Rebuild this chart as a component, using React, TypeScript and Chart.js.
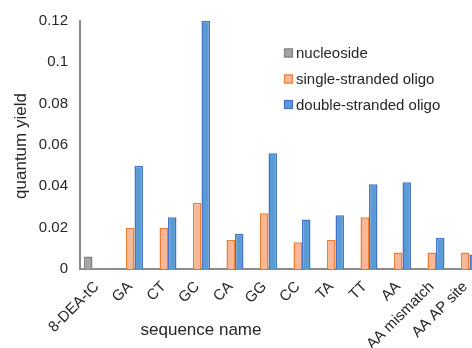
import React, { useEffect, useRef } from "react";
import { Chart, registerables } from "chart.js";

Chart.register(...registerables);

const categories = ["8-DEA-tC", "GA", "CT", "GC", "CA", "GG", "CC", "TA", "TT", "AA", "AA mismatch", "AA AP site"];
const nucleoside = [0.006, null, null, null, null, null, null, null, null, null, null, null];
const singleStranded = [null, 0.02, 0.02, 0.032, 0.014, 0.027, 0.013, 0.014, 0.025, 0.008, 0.008, 0.008];
const doubleStranded = [null, 0.05, 0.025, 0.12, 0.017, 0.056, 0.024, 0.026, 0.041, 0.042, 0.015, 0.007];
const seriesNames = ["nucleoside", "single-stranded oligo", "double-stranded oligo"];
const yMin = 0;
const yMax = 0.12;
const yStep = 0.02;
const xTitle = "sequence name";
const yTitle = "quantum yield";

const FONT = "'Liberation Sans', Arial, sans-serif";
const TEXT = "#262626";
const AXIS = "#8c8c8c";

const fills = ["#a5a5a5", "#f8b898", "#5b9bd5"];
const borders = ["#7f7f7f", "#ed7d31", "#4472c4"];

const overlayPlugin = {
  id: "overlay",
  afterDraw(chart: any) {
    const ctx = chart.ctx as CanvasRenderingContext2D;
    ctx.save();
    // axis titles
    ctx.fillStyle = TEXT;
    ctx.font = `17px ${FONT}`;
    ctx.textAlign = "center";
    ctx.textBaseline = "middle";
    ctx.fillText(xTitle, 201, 330);
    ctx.translate(21, 146);
    ctx.rotate(-Math.PI / 2);
    ctx.fillText(yTitle, 0, 0);
    ctx.restore();

    // legend
    ctx.save();
    ctx.font = `15px ${FONT}`;
    ctx.textAlign = "left";
    ctx.textBaseline = "middle";
    const x0 = 284;
    const rows = [53, 79, 104.5];
    chart.data.datasets.forEach((ds: any, i: number) => {
      const y = rows[i];
      ctx.fillStyle = ds.backgroundColor;
      ctx.fillRect(x0, y - 4.5, 9, 9);
      ctx.strokeStyle = ds.borderColor;
      ctx.lineWidth = 1.2;
      ctx.strokeRect(x0 + 0.5, y - 4, 8, 8);
      ctx.fillStyle = TEXT;
      ctx.fillText(ds.label, x0 + 12, y + 1);
    });
    ctx.restore();
  },
};

export default function App() {
  const ref = useRef<HTMLCanvasElement | null>(null);

  useEffect(() => {
    if (!ref.current) return;
    const datasets = [nucleoside, singleStranded, doubleStranded].map((d, i) => ({
      label: seriesNames[i],
      data: d,
      backgroundColor: fills[i],
      borderColor: borders[i],
      borderWidth: 1.5,
      categoryPercentage: 0.76,
      barPercentage: 1,
    }));
    const chart = new Chart(ref.current, {
      type: "bar",
      data: { labels: categories, datasets: datasets as any },
      options: {
        responsive: false,
        animation: false,
        layout: { padding: { top: 21, right: 10, left: 0, bottom: 0 } },
        plugins: {
          legend: { display: false },
          tooltip: { enabled: false },
          title: { display: false },
        },
        scales: {
          x: {
            grid: { display: false, drawTicks: false },
            border: { display: true, color: AXIS, width: 2 },
            ticks: {
              color: TEXT,
              font: { family: FONT, size: 15 },
              minRotation: 45,
              maxRotation: 45,
              autoSkip: false,
              padding: 9,
            },
            afterFit: (s: any) => {
              s.height = 79;
            },
          },
          y: {
            min: yMin,
            max: yMax,
            grid: { display: false, drawTicks: false },
            border: { display: true, color: AXIS, width: 2 },
            ticks: {
              stepSize: yStep,
              color: TEXT,
              font: { family: FONT, size: 15 },
              padding: 12,
              callback: (v: any) => String(+Number(v).toFixed(2)),
            },
            afterFit: (s: any) => {
              s.width = 80;
            },
          },
        },
      },
      plugins: [overlayPlugin],
    });
    return () => chart.destroy();
  }, []);

  return (
    <div
      style={{
        position: "fixed",
        left: 0,
        top: 0,
        width: 472,
        height: 348,
        overflow: "hidden",
        background: "#fff",
      }}
    >
      <canvas ref={ref} width={492} height={348} style={{ display: "block" }} />
    </div>
  );
}
